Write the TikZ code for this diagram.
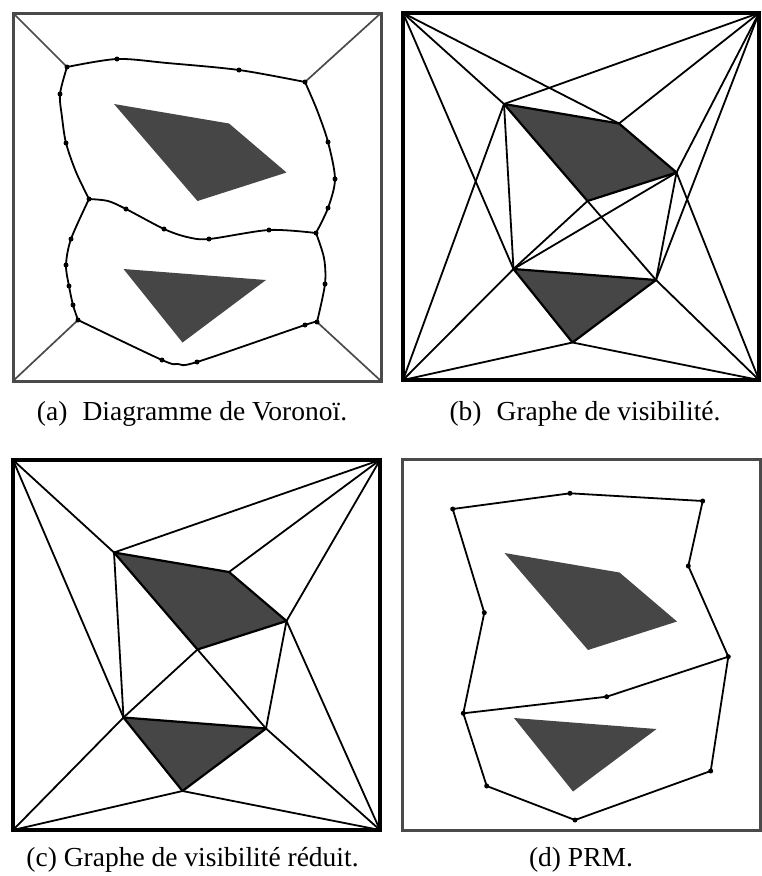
\documentclass[tikz,border=0pt]{standalone}
\usepackage{fontspec}
\setmainfont{Liberation Serif}
\definecolor{framegray}{HTML}{4A4A4A}
\definecolor{obstgray}{HTML}{464646}
\newcommand{\defobst}[1]{%
  \coordinate (#1A) at (114,104);
  \coordinate (#1B) at (229,123.5);
  \coordinate (#1C) at (286.5,172.5);
  \coordinate (#1D) at (197.5,201);
  \coordinate (#1E) at (123.5,269);
  \coordinate (#1F) at (266,280);
  \coordinate (#1G) at (182.5,342.5);
  \fill[obst] (#1A)--(#1B)--(#1C)--(#1D)--cycle;
  \fill[obst] (#1E)--(#1F)--(#1G)--cycle;}
\begin{document}
\begin{tikzpicture}[x=1pt,y=-1pt,
  frameA/.style={draw=framegray, line width=3pt},
  frameB/.style={draw=black, line width=3.2pt},
  obst/.style={fill=obstgray},
  obstline/.style={draw=black, line width=2.2pt, line join=round},
  edge/.style={draw=black, line width=1.8pt},
  vor/.style={draw=black, line width=1.8pt},
  cornerline/.style={draw=framegray, line width=1.7pt},
  dotnode/.style={circle, fill=black, inner sep=0pt, minimum size=5pt},
  caption/.style={font=\fontsize{27.5}{32}\selectfont, anchor=base}]
\useasboundingbox (0,0) rectangle (761,876);

% ---------------- (a) Voronoi ----------------
\begin{scope}
  \defobst{a}
\end{scope}
\draw[frameA] (13,13) rectangle (381,381);
\coordinate (aTL) at (13,13);
\coordinate (aTR) at (381,13);
\coordinate (aBL) at (13,381);
\coordinate (aBR) at (381,381);
\coordinate (v1) at (67,67);
\coordinate (v2) at (305,82);
\coordinate (v3) at (89,199);
\coordinate (v4) at (316,233);
\coordinate (v5) at (78,320);
\coordinate (v6) at (317,322);
\draw[cornerline] (aTL) -- (v1);
\draw[cornerline] (aTR) -- (v2);
\draw[cornerline] (aBL) -- (v5);
\draw[cornerline] (aBR) -- (v6);
\draw[vor] plot[smooth] coordinates {(67,67) (117,59) (167,63) (239,70) (305,82)};
\draw[vor] plot[smooth] coordinates {(305,82) (317,110) (328,142) (335,179) (328,208) (316,233)};
\draw[vor] plot[smooth] coordinates {(67,67) (60,94) (62,117) (66,143) (76,172) (89,199)};
\draw[vor] plot[smooth] coordinates {(89,199) (108,201) (126,209) (164,229) (187,237) (209,239) (269,230) (316,233)};
\draw[vor] plot[smooth] coordinates {(89,199) (71,239) (66,265) (69,286) (73,305) (78,320)};
\draw[vor] plot[smooth] coordinates {(316,233) (324,258) (325,284) (317,322)};
\draw[vor] plot[smooth] coordinates {(78,320) (162,360) (178,364) (197,362) (305,325) (317,322)};
\foreach \p [count=\i] in {(117,59),(239,70),(305,82),(67,67),(60,94),(66,143),(89,199),
  (126,209),(164,229),(209,239),(269,230),(316,233),(328,142),(335,179),(328,208),
  (71,239),(66,265),(69,286),(73,305),(78,320),(162,360),(197,362),(305,325),(317,322),(325,284)}
  \node[dotnode] (ad\i) at \p {};

% ---------------- (b) visibility graph ----------------
\begin{scope}[shift={(390,0)}]
  \defobst{b}
\end{scope}
\coordinate (bTL) at (403,13);
\coordinate (bTR) at (759,13);
\coordinate (bBL) at (403,380);
\coordinate (bBR) at (759,380);
\foreach \u/\v in {TL/A,TL/B,TL/E,TR/A,TR/B,TR/C,TR/F,BL/A,BL/E,BL/G,BR/C,BR/F,BR/G,A/E,E/D,E/C,D/F,C/F}
  \draw[edge] (b\u) -- (b\v);
\draw[obstline] (bA)--(bB)--(bC)--(bD)--cycle;
\draw[obstline] (bE)--(bF)--(bG)--cycle;
\draw[frameB] (bTL) rectangle (bBR);

% ---------------- (c) reduced visibility graph ----------------
\begin{scope}[shift={(0,448.5)}]
  \defobst{c}
\end{scope}
\coordinate (cTL) at (13,460);
\coordinate (cTR) at (380,460);
\coordinate (cBL) at (13,830);
\coordinate (cBR) at (380,830);
\foreach \u/\v in {TL/A,TL/E,TR/A,TR/B,TR/C,BL/E,BL/G,BR/C,BR/F,BR/G,A/E,E/D,D/F,C/F}
  \draw[edge] (c\u) -- (c\v);
\draw[obstline] (cA)--(cB)--(cC)--(cD)--cycle;
\draw[obstline] (cE)--(cF)--(cG)--cycle;
\draw[frameB] (cTL) rectangle (cBR);

% ---------------- (d) PRM ----------------
\begin{scope}[shift={(390.5,449)}]
  \defobst{d}
\end{scope}
\draw[frameA] (402,459) rectangle (760,830);
\node[dotnode] (p1) at (452.7,509) {};
\node[dotnode] (p2) at (570,493.3) {};
\node[dotnode] (p3) at (702.7,501) {};
\node[dotnode] (p4) at (688.3,566) {};
\node[dotnode] (p5) at (728.3,656.7) {};
\node[dotnode] (p6) at (484.3,612.7) {};
\node[dotnode] (p7) at (463.3,713.3) {};
\node[dotnode] (p8) at (606.7,696.7) {};
\node[dotnode] (p9) at (486.7,786) {};
\node[dotnode] (p10) at (575,820) {};
\node[dotnode] (p11) at (710.7,771) {};
\foreach \u/\v in {1/2,2/3,3/4,4/5,1/6,6/7,7/8,8/5,7/9,9/10,10/11,11/5}
  \draw[edge] (p\u.center) -- (p\v.center);

% ---------------- captions ----------------
\node[caption] (capa) at (192,420) {(a)\hspace{0.3em} Diagramme de Voronoï.};
\node[caption] (capb) at (585,420) {(b)\hspace{0.3em} Graphe de visibilité.};
\node[caption] (capc) at (192.5,866.5) {(c) Graphe de visibilité réduit.};
\node[caption] (capd) at (581,866.5) {(d) PRM.};
\end{tikzpicture}
\end{document}
